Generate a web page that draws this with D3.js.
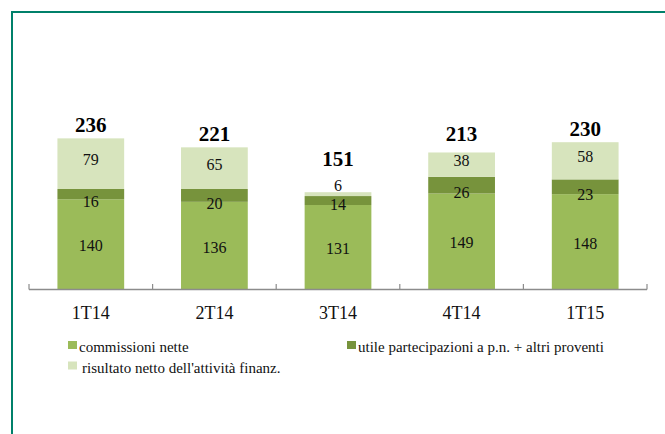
<!DOCTYPE html>
<html><head><meta charset="utf-8"><script src="https://cdn.jsdelivr.net/npm/d3@7"></script></head>
<body style="margin:0">
<svg id="chart" width="665" height="434" style="font-family: 'Liberation Serif'"></svg>
<script>
// Quarterly breakdown of revenues (stacked)
const categories = ["1T14", "2T14", "3T14", "4T14", "1T15"];
const commissioniNette = [140, 136, 131, 149, 148];
const utilePartecipazioni = [16, 20, 14, 26, 23];
const risultatoFinanz = [79, 65, 6, 38, 58];
const totals = [236, 221, 151, 213, 230];

const seriesNames = [
  "commissioni nette",
  "utile partecipazioni a p.n. + altri proventi",
  "risultato netto dell'attività finanz."
];
const seriesColors = ["#9bbb59", "#77933c", "#d7e4bd"];
// vertical nudge of the value labels per series
const labelNudge = [1.5, 7.5, -4];

const svg = d3.select("#chart");

// outer frame (top and left edges)
svg.append("path")
  .attr("d", "M12,434 L12,12 L665,12")
  .attr("fill", "none")
  .attr("stroke", "#00806a")
  .attr("stroke-width", 2);

const x0 = 29, x1 = 647, yBase = 289;
const x = d3.scaleBand().domain(categories).range([x0, x1])
  .paddingInner(0.46).paddingOuter(0.23);
const y = d3.scaleLinear().domain([0, 250]).range([yBase, yBase - 250 * 0.641]);

const rows = categories.map((c, i) => ({
  cat: c,
  s0: commissioniNette[i],
  s1: utilePartecipazioni[i],
  s2: risultatoFinanz[i],
  total: totals[i]
}));
const stack = d3.stack().keys(["s0", "s1", "s2"])(rows);

function label(sel, size) {
  return sel.style("font-family", "Liberation Serif").attr("font-size", size);
}

stack.forEach((layer, k) => {
  svg.selectAll(null).data(layer).enter().append("rect")
    .attr("x", d => x(d.data.cat))
    .attr("width", x.bandwidth())
    .attr("y", d => y(d[1]))
    .attr("height", d => y(d[0]) - y(d[1]))
    .attr("fill", seriesColors[k]);
});

// value labels inside segments
const labelPos = {};
stack.forEach((layer, k) => {
  layer.forEach(d => {
    let cy = (y(d[0]) + y(d[1])) / 2 + labelNudge[k];
    const h = y(d[0]) - y(d[1]);
    if (k === 2 && h < 12) cy = y(d[1]) - 6.5;
    if (k === 1 && h < 10) cy = (y(d[0]) + y(d[1])) / 2 + 3.5;
    labelPos[d.data.cat + k] = cy;
    label(svg.append("text"), 16)
      .attr("x", x(d.data.cat) + x.bandwidth() / 2)
      .attr("y", cy)
      .attr("dy", "0.35em")
      .attr("text-anchor", "middle")
      .attr("fill", "#111")
      .text(d.data[layer.key]);
  });
});

// totals above each bar
rows.forEach(r => {
  const barTop = y(r.total);
  const topLabelTop = labelPos[r.cat + 2] - 6;
  const base = Math.min(barTop - 6, topLabelTop - 14);
  label(svg.append("text"), 21)
    .attr("x", x(r.cat) + x.bandwidth() / 2)
    .attr("y", base)
    .attr("text-anchor", "middle")
    .attr("font-weight", "bold")
    .attr("fill", "#000")
    .text(r.total);
});

// category axis
const axisColor = "#8c8c8c";
svg.append("line")
  .attr("x1", x0).attr("x2", x1)
  .attr("y1", yBase + 0.5).attr("y2", yBase + 0.5)
  .attr("stroke", axisColor).attr("stroke-width", 1.5);
const bounds = categories.map(c => x(c) - x.step() * x.paddingInner() / 2).concat([x1]);
svg.selectAll(null).data(bounds).enter().append("line")
  .attr("x1", d => d).attr("x2", d => d)
  .attr("y1", yBase - 5).attr("y2", yBase + 0.5)
  .attr("stroke", axisColor).attr("stroke-width", 1.2);

categories.forEach(c => {
  label(svg.append("text"), 18)
    .attr("x", x(c) + x.bandwidth() / 2)
    .attr("y", 319)
    .attr("text-anchor", "middle")
    .attr("fill", "#111")
    .text(c);
});

// legend
const legendItems = [
  { k: 0, x: 68, y: 352, tx: 79 },
  { k: 1, x: 347, y: 352, tx: 358 },
  { k: 2, x: 68, y: 372.5, tx: 82 }
];
legendItems.forEach(it => {
  svg.append("rect")
    .attr("x", it.x).attr("y", it.y - 11)
    .attr("width", 9).attr("height", 8)
    .attr("fill", seriesColors[it.k]);
  label(svg.append("text"), 15)
    .attr("x", it.tx).attr("y", it.y)
    .attr("fill", "#111")
    .text(seriesNames[it.k]);
});
</script>
</body>
</html>
